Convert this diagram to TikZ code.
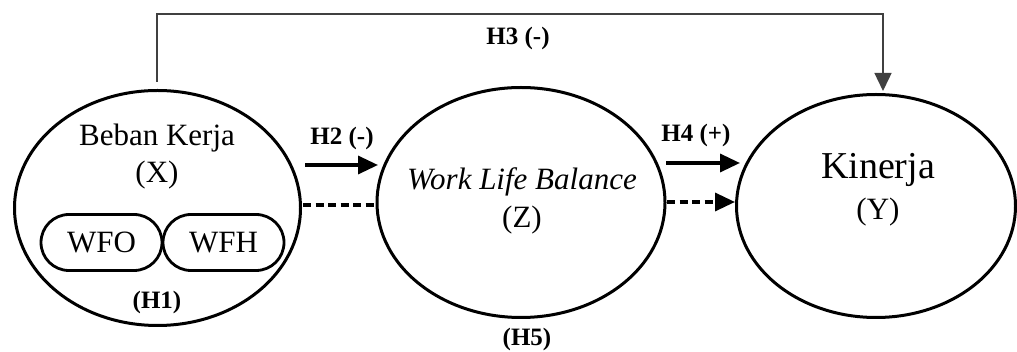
\documentclass[tikz,border=0pt]{standalone}
\usepackage{fontspec}
\setmainfont{Liberation Serif}
\usetikzlibrary{shapes.geometric, shapes.misc, arrows.meta}

\begin{document}
\begin{tikzpicture}[x=1pt, y=-1pt,
    var/.style={draw, ellipse, line width=3pt, inner sep=0pt},
    dim/.style={draw, rounded rectangle, line width=2.8pt, minimum width=121pt, minimum height=56pt, inner sep=0pt, font=\fontsize{31}{36}\selectfont},
    txt/.style={inner sep=0pt, font=\fontsize{31}{36}\selectfont},
    hyp/.style={inner sep=0pt, font=\bfseries\fontsize{25}{30}\selectfont},
    hypline/.style={line width=3.4pt, -{Triangle[length=20pt, width=18pt]}},
    hypdash/.style={line width=3.4pt, dash pattern=on 8pt off 4.5pt}]
  \useasboundingbox (0,0) rectangle (1017,352);

  % Nodes
  \node[var, minimum width=286pt, minimum height=235pt] (x) at (157.5,208) {};
  \node[var, minimum width=288pt, minimum height=230pt] (z) at (521,202.5) {};
  \node[var, minimum width=279pt, minimum height=223pt] (y) at (876,206) {};

  \node[txt] (xname) at (157,138) {Beban Kerja};
  \node[txt] (xsym) at (157,175) {(X)};
  \node[dim] (wfo) at (101.5,242.5) {WFO};
  \node[dim] (wfh) at (223.5,242.5) {WFH};

  \node[txt] (zname) at (522,182) {\itshape Work Life Balance};
  \node[txt] (zsym) at (522,220) {(Z)};

  \node[txt, font=\fontsize{38}{44}\selectfont] (yname) at (878,170) {Kinerja};
  \node[txt] (ysym) at (878,212) {(Y)};

  \node[hyp] (h1) at (157,302) {(H1)};
  \node[hyp] (h2) at (342,138) {H2 (-)};
  \node[hyp] (h3) at (518,38) {H3 (-)};
  \node[hyp] (h4) at (696,135) {H4 (+)};
  \node[hyp] (h5) at (527,339) {(H5)};

  % Edges
  \coordinate (h2s) at (305,165);
  \coordinate (h2e) at (378,165);
  \coordinate (d2s) at (303,205);
  \coordinate (d2e) at (378,205);
  \coordinate (h4s) at (666,163);
  \coordinate (h4e) at (740,163);
  \coordinate (d4s) at (667,202);
  \coordinate (d4e) at (735,202);
  \coordinate (h3s) at (157,82);
  \coordinate (h3e) at (883,91);

  \draw[hypline] (h2s) -- (h2e);
  \draw[hypdash] (d2s) -- (d2e);
  \draw[hypline] (h4s) -- (h4e);
  \draw[hypdash, -{Triangle[length=20pt, width=18pt]}] (d4s) -- (d4e);
  \draw[line width=1.4pt, draw=black!75, -{Triangle[length=18pt, width=17pt]}]
    (h3s) -- ++(0,-68) -| (h3e);
\end{tikzpicture}
\end{document}
